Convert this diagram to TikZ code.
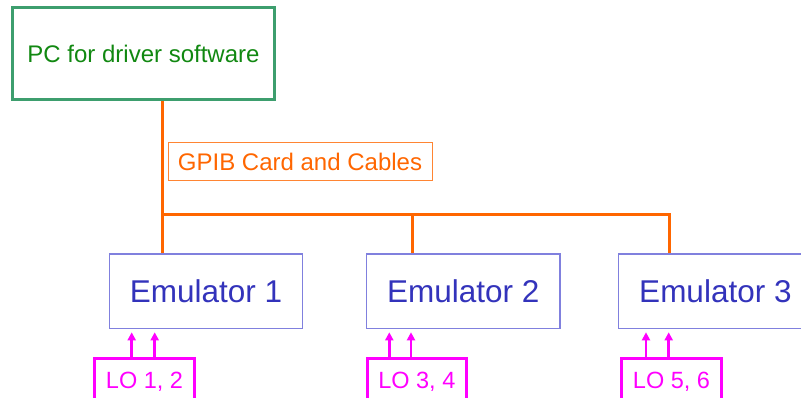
\documentclass[tikz,border=0pt]{standalone}
\usepackage{fontspec}
\setmainfont{Liberation Sans}
\usetikzlibrary{arrows.meta,calc}

\definecolor{pcgreen}{RGB}{61,158,110}
\definecolor{pctext}{RGB}{17,136,17}
\definecolor{bus}{RGB}{255,102,0}
\definecolor{emuline}{RGB}{128,128,222}
\definecolor{emutext}{RGB}{51,51,187}
\definecolor{lomag}{RGB}{255,0,255}

\tikzset{
  pcbox/.style={draw=pcgreen, line width=3pt, text=pctext,
    minimum width=262pt, minimum height=92.5pt, inner sep=0pt,
    font=\fontsize{24}{24}\selectfont},
  cardlabel/.style={draw=bus!80, line width=1pt, text=bus,
    minimum width=264pt, minimum height=38pt, inner sep=0pt,
    font=\fontsize{24}{24}\selectfont},
  emubox/.style={draw=emuline, line width=1.3pt, text=emutext,
    minimum width=193.4pt, minimum height=74.7pt, inner sep=0pt,
    font=\fontsize{31.5}{31.5}\selectfont},
  lobox/.style={draw=lomag, line width=3pt, text=lomag,
    minimum width=99.4pt, minimum height=46pt, inner sep=0pt,
    font=\fontsize{23.5}{23.5}\selectfont},
  cable/.style={draw=bus, line width=3pt},
  lofeed/.style={draw=lomag, line width=2.6pt,
    -{Triangle[width=8pt,length=8pt]}, shorten >=3pt}
}

\begin{document}
\begin{tikzpicture}[x=1pt,y=-1pt]
  \clip (0,0) rectangle (801,398);
  \useasboundingbox (0,0) rectangle (801,398);

  % host computer and interface label
  \node[pcbox] (pc) at (143.5,53.75) {PC for driver software};
  \node[cardlabel] (card) at (300,162) {GPIB Card and Cables};

  % emulators
  \node[emubox] (emu1) at (206,291.3) {Emulator 1};
  \node[emubox] (emu2) at (463.3,291.3) {Emulator 2};
  \node[emubox] (emu3) at (715.4,291.3) {Emulator 3};

  % local oscillator sources
  \node[lobox] (lo1) at (144.5,381.8) {LO 1, 2};
  \node[lobox] (lo2) at (416.85,381.8) {LO 3, 4};
  \node[lobox] (lo3) at (671.5,381.8) {LO 5, 6};

  % GPIB bus
  \coordinate (tap1) at (162,215);
  \coordinate (tap2) at (412,215);
  \coordinate (tap3) at (669,215);
  \draw[cable] (pc.south -| tap1) -- (emu1.north -| tap1);
  \draw[cable] (tap1) -- (tap3) -- (emu3.north -| tap3);
  \draw[cable] (tap2) -- (emu2.north -| tap2);

  % LO feeds into each emulator
  \foreach \lo/\emu/\xa/\xb in {lo1/emu1/131.7/154.7, lo2/emu2/389.3/411, lo3/emu3/646/668.7}{
    \draw[lofeed] (\lo.north -| \xa,0) -- (\emu.south -| \xa,0);
    \draw[lofeed] (\lo.north -| \xb,0) -- (\emu.south -| \xb,0);
  }
\end{tikzpicture}
\end{document}
